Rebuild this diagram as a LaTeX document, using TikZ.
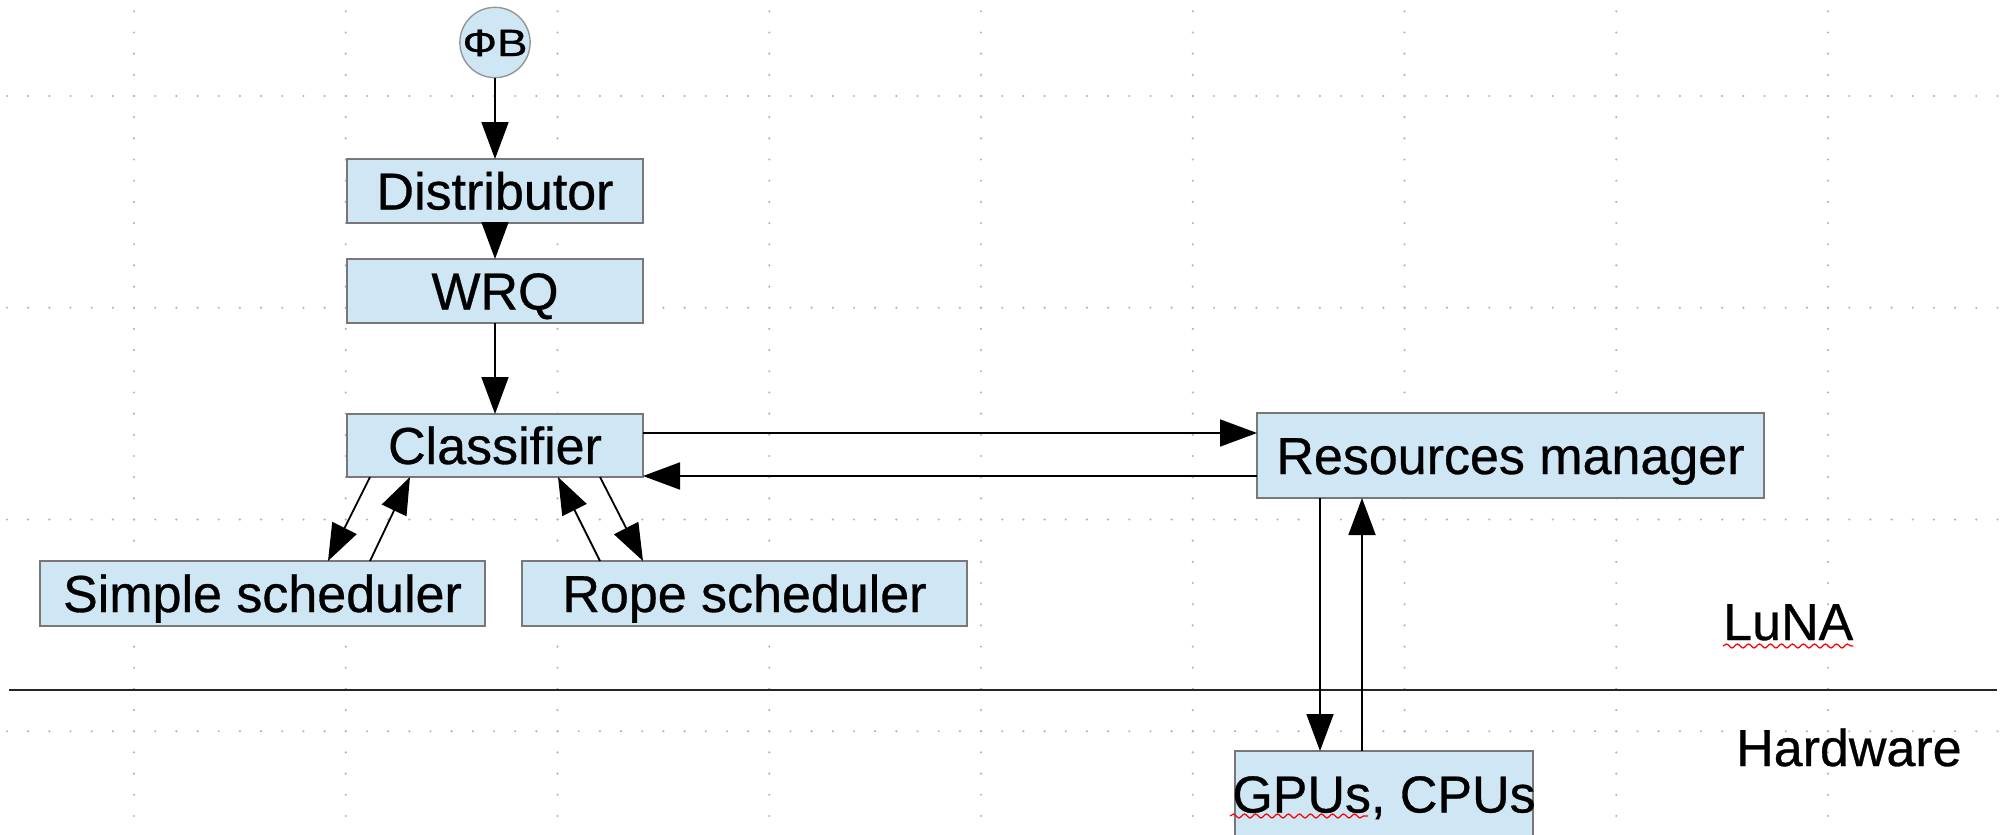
\documentclass[tikz,border=0pt]{standalone}
\usepackage{fontspec}
\setmainfont{Liberation Sans}[BoldFont=Liberation Sans, BoldFeatures={FakeBold=0.6}]
\usetikzlibrary{arrows.meta,calc,decorations.pathmorphing}
\definecolor{boxfill}{RGB}{207,231,245}
\definecolor{boxline}{RGB}{120,120,120}
\definecolor{circline}{RGB}{150,150,150}
\definecolor{griddot}{RGB}{180,180,180}
\begin{document}
\begin{tikzpicture}[x=1pt,y=-1pt,
  blk/.style={draw=boxline, fill=boxfill, line width=1.6pt, inner sep=0pt, outer sep=0pt,
              text height=37pt, text depth=0pt, font=\fontsize{52}{62}\selectfont\bfseries},
  arr/.style={line width=1.8pt, -{Triangle[length=37pt,width=27pt]}},
  lbl/.style={inner sep=0pt, font=\fontsize{52}{62}\selectfont\bfseries},
  wavy/.style={red, line width=1.2pt, decorate,
               decoration={snake, amplitude=2pt, segment length=11pt}}]

\useasboundingbox (0,0) rectangle (2003,835);

% dotted drawing grid
\foreach \k in {0,...,3}{
  \foreach \i in {0,...,94}{
    \fill[griddot] (7+21.175*\i, 96+211.75*\k) circle (1.2pt);
  }
}
\foreach \k in {0,...,8}{
  \foreach \j in {0,...,38}{
    \fill[griddot] (134+211.75*\k, 11.3+21.175*\j) circle (1.2pt);
  }
}

% layer separator
\coordinate (sepL) at (9,690);
\coordinate (sepR) at (1997,690);
\draw[line width=2pt, black!85] (sepL) -- (sepR);

% blocks
\node[blk, circle, draw=circline, line width=1.4pt, minimum size=65pt,
      font=\fontsize{38}{42}\selectfont\bfseries, text height=27pt] (fb) at (495,42.5)
      {\scalebox{1.2}[1]{ФВ}};
\node[blk, minimum width=296pt, minimum height=64pt] (dist) at (495,191) {Distributor};
\node[blk, minimum width=296pt, minimum height=64pt] (wrq) at (495,291) {WRQ};
\node[blk, minimum width=296pt, minimum height=63pt] (cls) at (495,445.5) {Classifier};
\node[blk, minimum width=445pt, minimum height=65pt] (simple) at (262.5,593.5) {Simple scheduler};
\node[blk, minimum width=445pt, minimum height=65pt] (rope) at (744.5,593.5) {Rope scheduler};
\node[blk, minimum width=507pt, minimum height=85pt] (rm) at (1510.5,455.5) {Resources manager};
\node[blk, minimum width=298pt, minimum height=86pt] (hw) at (1384,794) {\makebox[0pt]{GPUs, CPUs}};

% main chain
\draw[arr] (fb) -- (dist);
\draw[arr] (dist) -- (wrq);
\draw[arr] (wrq) -- (cls);

% classifier and schedulers
\draw[arr] ([xshift=23pt]cls.south west) -- ([xshift=288pt]simple.north west);
\draw[arr] ([xshift=330pt]simple.north west) -- ([xshift=63pt]cls.south west);
\draw[arr] ([xshift=78pt]rope.north west) -- ([xshift=211pt]cls.south west);
\draw[arr] ([xshift=253pt]cls.south west) -- ([xshift=121pt]rope.north west);

% classifier and resources manager
\draw[arr] ([yshift=-19pt]cls.north east) -- ([yshift=-19pt]cls.north east -| rm.west);
\draw[arr] ([yshift=22pt]rm.south west) -- ([yshift=22pt]rm.south west -| cls.east);

% resources manager and hardware
\draw[arr] ([xshift=63pt]rm.south west) -- ([xshift=63pt]rm.south west |- hw.north);
\draw[arr] ([xshift=105pt]rm.south west |- hw.north) -- ([xshift=105pt]rm.south west);

% layer labels
\node[lbl, anchor=base west] (luna) at (1723,640) {LuNA};
\node[lbl, anchor=base west] (hwlab) at (1736,766) {Hardware};

% spell-check underlines
\draw[wavy] ([yshift=-6pt]luna.base west) -- ([yshift=-6pt]luna.base east);
\draw[wavy] ([xshift=-5pt,yshift=21pt]hw.south west) -- ([xshift=133pt,yshift=21pt]hw.south west);
\end{tikzpicture}
\end{document}
